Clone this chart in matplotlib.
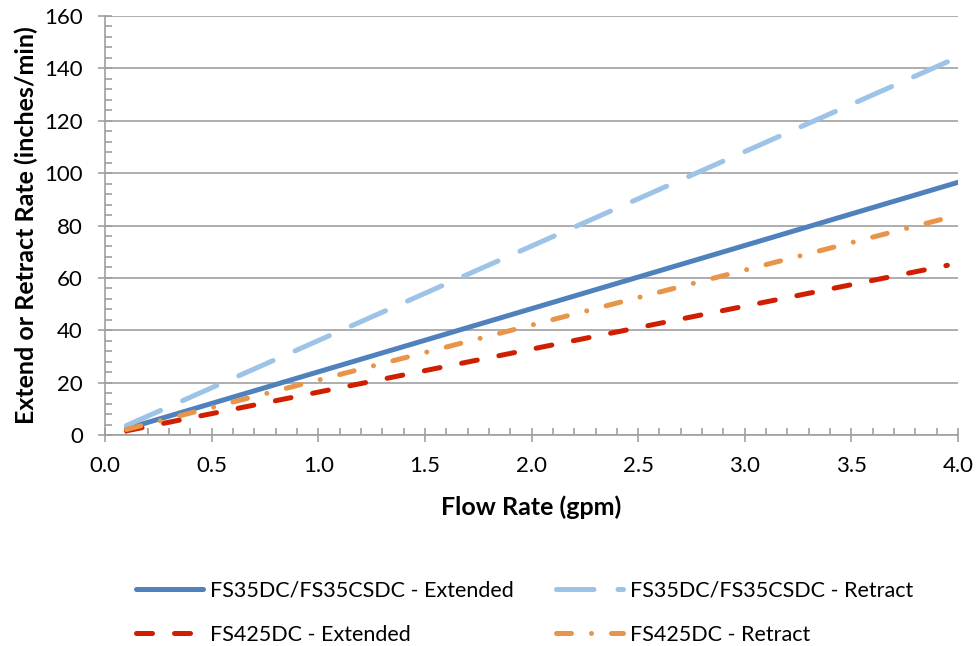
import matplotlib.pyplot as plt
from matplotlib.ticker import MultipleLocator, FormatStrFormatter

flow = [0.1, 4.0]
fs35_ext = [2.4, 96.5]
fs35_flow_ret = [0.1, 3.95]
fs35_ret = [3.6, 142.5]
fs425_flow_ext = [0.1, 3.95]
fs425_ext = [1.6, 64.8]
fs425_flow_ret = [0.1, 3.93]
fs425_ret = [2.1, 82.5]

plt.rcParams['font.family'] = ['Lato', 'DejaVu Sans']

fig = plt.figure(figsize=(9.76, 6.46), dpi=100)
ax = fig.add_axes([0.1076, 0.3266, 0.874, 0.6486])

lw = 3.6
l1, = ax.plot(flow, fs35_ext, color='#4F81BD', lw=lw, solid_capstyle='round',
              label='FS35DC/FS35CSDC - Extended')
l2, = ax.plot(fs35_flow_ret, fs35_ret, color='#9DC3E6', lw=lw, dash_capstyle='round',
              dashes=(7.5, 4.8), label='FS35DC/FS35CSDC - Retract')
l3, = ax.plot(fs425_flow_ext, fs425_ext, color='#D01F00', lw=lw, dash_capstyle='round',
              dashes=(3.2, 4.4), label='FS425DC - Extended')
l4, = ax.plot(fs425_flow_ret, fs425_ret, color='#E8954A', lw=lw, dash_capstyle='round',
              dashes=(3.0, 4.0, 0.01, 4.0), label='FS425DC - Retract')

ax.set_xlim(0, 4.0)
ax.set_ylim(0, 160)
ax.xaxis.set_major_locator(MultipleLocator(0.5))
ax.xaxis.set_minor_locator(MultipleLocator(0.1))
ax.xaxis.set_major_formatter(FormatStrFormatter('%.1f'))
ax.yaxis.set_major_locator(MultipleLocator(20))
ax.yaxis.set_minor_locator(MultipleLocator(4))

ax.grid(axis='y', which='major', color='#A0A0A0', lw=1.2)
ax.set_axisbelow(True)
for s in ['top', 'right']:
    ax.spines[s].set_visible(False)
for s in ['left', 'bottom']:
    ax.spines[s].set_color('#A0A0A0')
    ax.spines[s].set_linewidth(1.2)

ax.tick_params(which='major', direction='inout', length=10, width=1.2,
               color='#A0A0A0', labelsize=16, labelcolor='black')
ax.tick_params(axis='x', which='major', pad=10)
ax.tick_params(axis='y', which='major', pad=11)
ax.tick_params(which='minor', direction='in', length=5, width=1.2, color='#A0A0A0')

ax.set_xlabel('Flow Rate (gpm)', fontsize=18, fontweight='bold', labelpad=14)
ax.set_ylabel('Extend or Retract Rate (inches/min)', fontsize=18, fontweight='bold', labelpad=4)

ax.legend([l1, l3, l2, l4], [l.get_label() for l in [l1, l3, l2, l4]],
          loc='upper center', bbox_to_anchor=(0.492, -0.30), ncol=2, frameon=False,
          fontsize=15.5, handlelength=3.1, columnspacing=2.0, labelspacing=1.15,
          handletextpad=0.3)

fig.savefig('out.png', dpi=100)
